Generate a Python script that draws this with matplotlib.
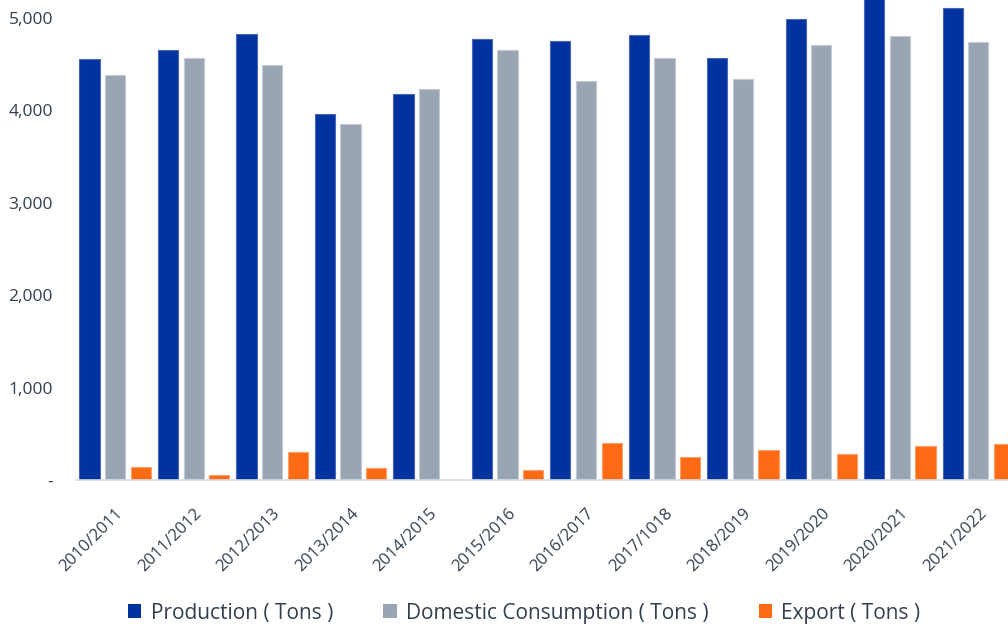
import matplotlib
matplotlib.use("Agg")
import matplotlib.pyplot as plt
import numpy as np
from matplotlib.patches import Patch
from matplotlib.ticker import FuncFormatter

seasons = ["2010/2011", "2011/2012", "2012/2013", "2013/2014", "2014/2015",
           "2015/2016", "2016/2017", "2017/1018", "2018/2019", "2019/2020",
           "2020/2021", "2021/2022"]
production = [4560, 4650, 4830, 3960, 4180, 4770, 4755, 4815, 4565, 4985, 5250, 5110]
domestic = [4385, 4565, 4490, 3855, 4230, 4655, 4320, 4565, 4335, 4705, 4810, 4740]
export = [150, 60, 305, 130, 10, 110, 410, 255, 325, 288, 378, 395]

series_names = ["Production ( Tons )", "Domestic Consumption ( Tons )", "Export ( Tons )"]
colors = ["#0033a0", "#9aa5b4", "#ff6a14"]
edge_colors = ["#4a64b8", "#c3cad4", "#ffa06a"]
text_color = "#333f4f"

plt.rcParams["font.family"] = ["Open Sans", "DejaVu Sans"]

fig = plt.figure(figsize=(10.08, 6.27), dpi=100)
ax = fig.add_axes([0.0754, 0.2337, 0.9246, 0.7663])

x = np.arange(len(seasons))
offset = 0.325
width = 0.255
for vals, dx, col, ec in zip([production, domestic, export], [-offset, 0, offset], colors, edge_colors):
    ax.bar(x + dx, vals, width=width, color=col, edgecolor=ec, linewidth=0.8, zorder=2)

ax.set_xlim(-0.497, 11.376)
ax.set_ylim(0, 5194)
ax.set_yticks([0, 1000, 2000, 3000, 4000, 5000])
ax.yaxis.set_major_formatter(FuncFormatter(lambda v, p: "-" if v == 0 else f"{int(v):,}"))

for s in ["top", "right", "left"]:
    ax.spines[s].set_visible(False)
ax.spines["bottom"].set_color("#d5dce6")
ax.spines["bottom"].set_linewidth(1.2)

ax.tick_params(axis="y", length=0, pad=16.5, labelsize=12.5, labelcolor=text_color)
ax.tick_params(axis="x", length=0, pad=18, labelsize=12, labelcolor=text_color)
ax.set_xticks(x)
ax.set_xticklabels(seasons, rotation=45, ha="right", rotation_mode="anchor")

handles = [Patch(facecolor=c, edgecolor="none") for c in colors]
fig.legend(handles, series_names, loc="center", bbox_to_anchor=(0.52, 0.022),
           ncol=3, frameon=False, fontsize=15, labelcolor=text_color,
           handlelength=0.65, handleheight=0.65, handletextpad=0.45, columnspacing=2.4)

fig.savefig("out.png", dpi=100)
